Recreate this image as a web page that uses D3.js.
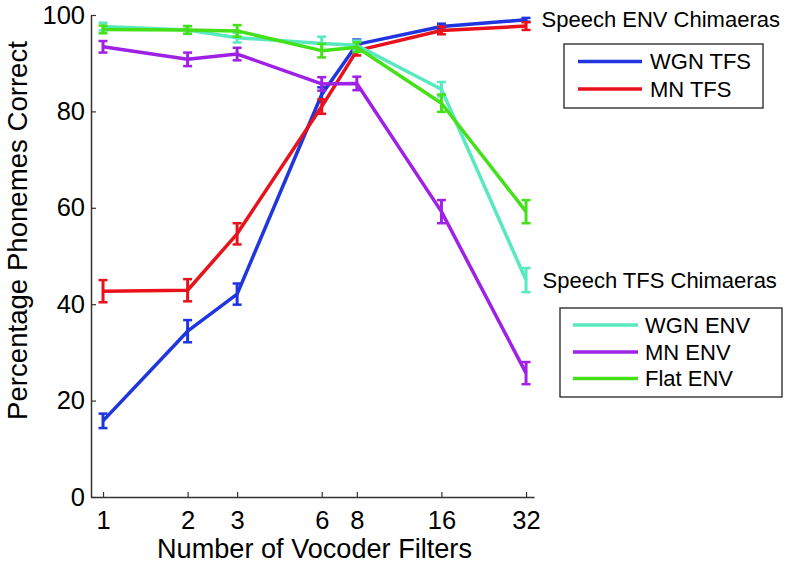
<!DOCTYPE html>
<html><head><meta charset="utf-8">
<script src="https://cdn.jsdelivr.net/npm/d3@7"></script>
<style>body{margin:0;background:#fff}svg{display:block}text{font-family:"Liberation Sans",Arial,Helvetica,sans-serif;fill:#000}</style>
</head><body><svg id="c" width="789" height="566"></svg>
<script>
const filters = [1, 2, 3, 6, 8, 16, 32];
const seriesNames = ["WGN TFS", "MN TFS", "WGN ENV", "MN ENV", "Flat ENV"];
const wgnTfs  = [15.8, 34.4, 42.1, 83.5, 93.9, 97.6, 99.0];
const wgnTfsErr = [1.5, 2.3, 2.2, 1.5, 1.0, 0.6, 0.4];
const mnTfs   = [42.7, 42.9, 54.6, 81.0, 92.6, 96.8, 97.7];
const mnTfsErr = [2.3, 2.3, 2.2, 1.5, 1.0, 0.8, 0.8];
const wgnEnv  = [97.6, 96.9, 95.3, 94.1, 93.7, 84.6, 45.0];
const wgnEnvErr = [0.8, 0.8, 1.0, 1.4, 1.0, 1.5, 2.5];
const mnEnv   = [93.4, 90.8, 91.9, 85.7, 85.8, 59.2, 25.7];
const mnEnvErr = [1.2, 1.4, 1.3, 1.4, 1.4, 2.4, 2.3];
const flatEnv = [97.0, 96.9, 96.7, 92.6, 93.3, 81.7, 59.2];
const flatEnvErr = [0.8, 0.8, 1.2, 1.4, 1.0, 1.8, 2.4];
const colors = ["#1f35e0", "#e8121c", "#58e9c0", "#a021e6", "#45e01a"];
const yTicks = [0, 20, 40, 60, 80, 100];

const series = [
  {name: seriesNames[0], v: wgnTfs, e: wgnTfsErr, c: colors[0]},
  {name: seriesNames[1], v: mnTfs, e: mnTfsErr, c: colors[1]},
  {name: seriesNames[2], v: wgnEnv, e: wgnEnvErr, c: colors[2]},
  {name: seriesNames[3], v: mnEnv, e: mnEnvErr, c: colors[3]},
  {name: seriesNames[4], v: flatEnv, e: flatEnvErr, c: colors[4]}
];

const svg = d3.select("#c");
const x0 = 91, x1 = 534, yTop = 15, yBot = 497;
const x = d3.scaleLog().domain([Math.pow(2, -0.142), Math.pow(2, 5.094)]).range([x0, x1]);
const y = d3.scaleLinear().domain([0, 100]).range([yBot, yTop]);

function fit(t, target) {
  const w = t.node().getComputedTextLength();
  const fs = parseFloat(t.style("font-size"));
  t.style("font-size", (fs * target / w) + "px");
  return t;
}

// axes
const xAxis = d3.axisBottom(x).tickValues(filters).tickFormat(d3.format("d")).tickSizeInner(-5).tickSizeOuter(0).tickPadding(14);
const gx = svg.append("g").attr("transform", `translate(0,${yBot})`).call(xAxis);
gx.select(".domain").attr("stroke", "#333").attr("stroke-width", 1.5);
gx.selectAll(".tick line").attr("stroke", "#333").attr("stroke-width", 1.2);
gx.selectAll(".tick text").style("font-size", "25.5px").attr("fill", "#111");

const yAxis = d3.axisLeft(y).tickValues(yTicks).tickSizeInner(-5).tickSizeOuter(0).tickPadding(6);
const gy = svg.append("g").attr("transform", `translate(${x0},0)`).call(yAxis);
gy.select(".domain").attr("stroke", "#333").attr("stroke-width", 1.5);
gy.selectAll(".tick line").attr("stroke", "#333").attr("stroke-width", 1.2);
gy.selectAll(".tick text").style("font-size", "25.5px").attr("fill", "#111");

fit(svg.append("text").attr("x", 314.5).attr("y", 558).attr("text-anchor", "middle").style("font-size", "27px").text("Number of Vocoder Filters"), 315);
fit(svg.append("text").attr("transform", `translate(27,230.5) rotate(-90)`).attr("text-anchor", "middle").style("font-size", "27px").text("Percentage Phonemes Correct"), 379);

// series
const line = d3.line().x(d => x(d[0])).y(d => y(d[1]));
series.forEach(s => {
  const g = svg.append("g");
  const pts = filters.map((f, i) => [f, s.v[i], s.e[i]]);
  g.append("path").attr("d", line(pts)).attr("fill", "none").attr("stroke", s.c).attr("stroke-width", 3.5).attr("stroke-linejoin", "round");
  pts.forEach(p => {
    const cx = x(p[0]), yt = y(p[1] + p[2]), yb = y(p[1] - p[2]);
    g.append("line").attr("x1", cx).attr("x2", cx).attr("y1", yt).attr("y2", yb).attr("stroke", s.c).attr("stroke-width", 3);
    [yt, yb].forEach(yy => g.append("line").attr("x1", cx - 4.5).attr("x2", cx + 4.5).attr("y1", yy).attr("y2", yy).attr("stroke", s.c).attr("stroke-width", 2.5));
  });
});

// annotations & legends
svg.append("text").attr("x", 541.5).attr("y", 27).style("font-size", "22px").text("Speech ENV Chimaeras");
svg.append("text").attr("x", 542.5).attr("y", 288).style("font-size", "22px").text("Speech TFS Chimaeras");

function legend(items, bx, by, bw, bh, lx0, lx1, tx, rows) {
  svg.append("rect").attr("x", bx).attr("y", by).attr("width", bw).attr("height", bh).attr("fill", "#fff").attr("stroke", "#222").attr("stroke-width", 1.3);
  items.forEach((s, i) => {
    svg.append("line").attr("x1", lx0).attr("x2", lx1).attr("y1", rows[i]).attr("y2", rows[i]).attr("stroke", s.c).attr("stroke-width", 3.5);
    svg.append("text").attr("x", tx).attr("y", rows[i]).attr("dy", "0.36em").style("font-size", "22px").text(s.name);
  });
}
legend(series.slice(0, 2), 564, 44, 199, 64, 578, 642, 650, [61.5, 89]);
legend(series.slice(2), 560, 308, 222, 89, 573, 638, 645, [325, 352, 378.5]);
</script></body></html>
